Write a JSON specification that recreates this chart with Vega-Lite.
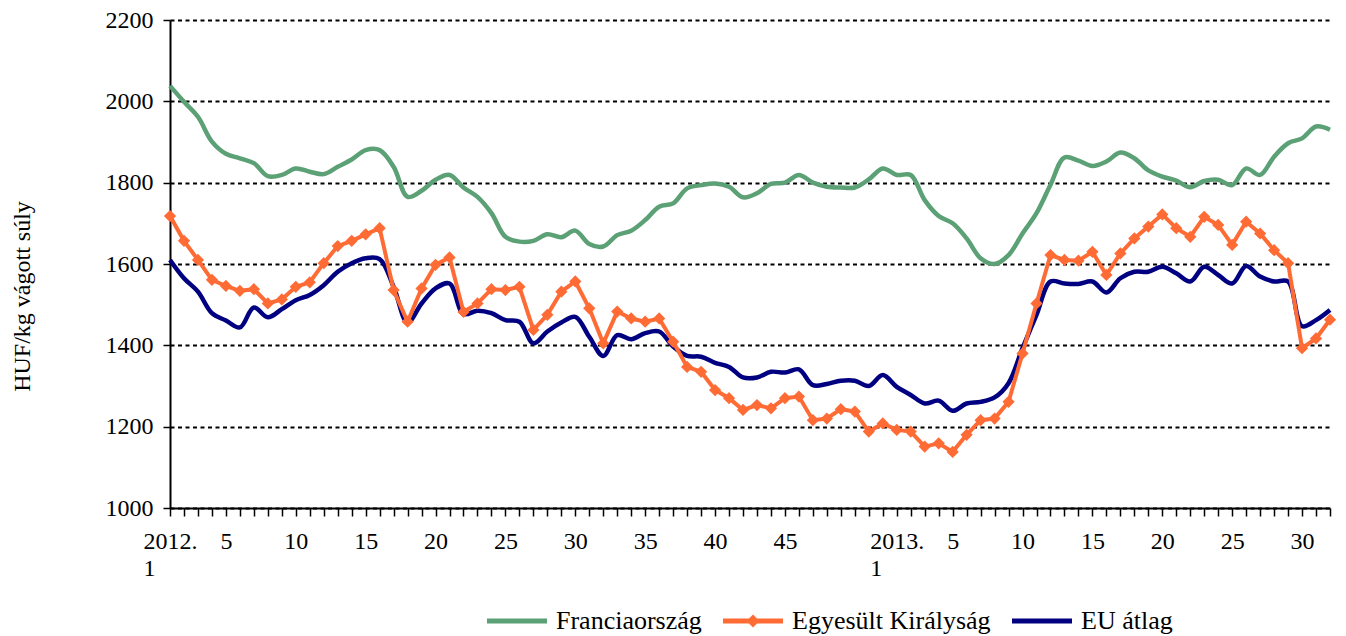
{
  "$schema": "https://vega.github.io/schema/vega-lite/v6.json",
  "autosize": "none",
  "width": 1160,
  "height": 488,
  "padding": {"left": 170, "top": 20, "right": 16, "bottom": 128},
  "background": "white",
  "config": {"view": {"stroke": null}, "font": "Liberation Serif"},
  "datasets": {
    "prices": [
      {"i":0,"series":"Franciaország","value":2038},{"i":1,"series":"Franciaország","value":1999},{"i":2,"series":"Franciaország","value":1962},{"i":3,"series":"Franciaország","value":1901},{"i":4,"series":"Franciaország","value":1871},{"i":5,"series":"Franciaország","value":1860},{"i":6,"series":"Franciaország","value":1848},{"i":7,"series":"Franciaország","value":1816},{"i":8,"series":"Franciaország","value":1819},{"i":9,"series":"Franciaország","value":1835},{"i":10,"series":"Franciaország","value":1827},{"i":11,"series":"Franciaország","value":1821},{"i":12,"series":"Franciaország","value":1839},{"i":13,"series":"Franciaország","value":1857},{"i":14,"series":"Franciaország","value":1880},{"i":15,"series":"Franciaország","value":1880},{"i":16,"series":"Franciaország","value":1839},{"i":17,"series":"Franciaország","value":1765},{"i":18,"series":"Franciaország","value":1780},{"i":19,"series":"Franciaország","value":1807},{"i":20,"series":"Franciaország","value":1819},{"i":21,"series":"Franciaország","value":1788},{"i":22,"series":"Franciaország","value":1765},{"i":23,"series":"Franciaország","value":1725},{"i":24,"series":"Franciaország","value":1667},{"i":25,"series":"Franciaország","value":1655},{"i":26,"series":"Franciaország","value":1657},{"i":27,"series":"Franciaország","value":1673},{"i":28,"series":"Franciaország","value":1666},{"i":29,"series":"Franciaország","value":1682},{"i":30,"series":"Franciaország","value":1649},{"i":31,"series":"Franciaország","value":1643},{"i":32,"series":"Franciaország","value":1671},{"i":33,"series":"Franciaország","value":1682},{"i":34,"series":"Franciaország","value":1708},{"i":35,"series":"Franciaország","value":1741},{"i":36,"series":"Franciaország","value":1749},{"i":37,"series":"Franciaország","value":1786},{"i":38,"series":"Franciaország","value":1794},{"i":39,"series":"Franciaország","value":1798},{"i":40,"series":"Franciaország","value":1790},{"i":41,"series":"Franciaország","value":1764},{"i":42,"series":"Franciaország","value":1774},{"i":43,"series":"Franciaország","value":1797},{"i":44,"series":"Franciaország","value":1800},{"i":45,"series":"Franciaország","value":1819},{"i":46,"series":"Franciaország","value":1800},{"i":47,"series":"Franciaország","value":1790},{"i":48,"series":"Franciaország","value":1788},{"i":49,"series":"Franciaország","value":1788},{"i":50,"series":"Franciaország","value":1808},{"i":51,"series":"Franciaország","value":1835},{"i":52,"series":"Franciaország","value":1819},{"i":53,"series":"Franciaország","value":1819},{"i":54,"series":"Franciaország","value":1757},{"i":55,"series":"Franciaország","value":1718},{"i":56,"series":"Franciaország","value":1700},{"i":57,"series":"Franciaország","value":1663},{"i":58,"series":"Franciaország","value":1614},{"i":59,"series":"Franciaország","value":1600},{"i":60,"series":"Franciaország","value":1622},{"i":61,"series":"Franciaország","value":1675},{"i":62,"series":"Franciaország","value":1725},{"i":63,"series":"Franciaország","value":1795},{"i":64,"series":"Franciaország","value":1862},{"i":65,"series":"Franciaország","value":1854},{"i":66,"series":"Franciaország","value":1841},{"i":67,"series":"Franciaország","value":1852},{"i":68,"series":"Franciaország","value":1874},{"i":69,"series":"Franciaország","value":1860},{"i":70,"series":"Franciaország","value":1830},{"i":71,"series":"Franciaország","value":1815},{"i":72,"series":"Franciaország","value":1805},{"i":73,"series":"Franciaország","value":1789},{"i":74,"series":"Franciaország","value":1804},{"i":75,"series":"Franciaország","value":1807},{"i":76,"series":"Franciaország","value":1794},{"i":77,"series":"Franciaország","value":1835},{"i":78,"series":"Franciaország","value":1819},{"i":79,"series":"Franciaország","value":1864},{"i":80,"series":"Franciaország","value":1897},{"i":81,"series":"Franciaország","value":1909},{"i":82,"series":"Franciaország","value":1938},{"i":83,"series":"Franciaország","value":1930},
      {"i":0,"series":"EU átlag","value":1610},{"i":1,"series":"EU átlag","value":1565},{"i":2,"series":"EU átlag","value":1532},{"i":3,"series":"EU átlag","value":1479},{"i":4,"series":"EU átlag","value":1461},{"i":5,"series":"EU átlag","value":1444},{"i":6,"series":"EU átlag","value":1493},{"i":7,"series":"EU átlag","value":1469},{"i":8,"series":"EU átlag","value":1489},{"i":9,"series":"EU átlag","value":1511},{"i":10,"series":"EU átlag","value":1524},{"i":11,"series":"EU átlag","value":1548},{"i":12,"series":"EU átlag","value":1581},{"i":13,"series":"EU átlag","value":1602},{"i":14,"series":"EU átlag","value":1614},{"i":15,"series":"EU átlag","value":1612},{"i":16,"series":"EU átlag","value":1544},{"i":17,"series":"EU átlag","value":1456},{"i":18,"series":"EU átlag","value":1503},{"i":19,"series":"EU átlag","value":1540},{"i":20,"series":"EU átlag","value":1552},{"i":21,"series":"EU átlag","value":1477},{"i":22,"series":"EU átlag","value":1485},{"i":23,"series":"EU átlag","value":1479},{"i":24,"series":"EU átlag","value":1462},{"i":25,"series":"EU átlag","value":1458},{"i":26,"series":"EU átlag","value":1405},{"i":27,"series":"EU átlag","value":1434},{"i":28,"series":"EU átlag","value":1456},{"i":29,"series":"EU átlag","value":1470},{"i":30,"series":"EU átlag","value":1421},{"i":31,"series":"EU átlag","value":1374},{"i":32,"series":"EU átlag","value":1425},{"i":33,"series":"EU átlag","value":1415},{"i":34,"series":"EU átlag","value":1430},{"i":35,"series":"EU átlag","value":1434},{"i":36,"series":"EU átlag","value":1397},{"i":37,"series":"EU átlag","value":1374},{"i":38,"series":"EU átlag","value":1372},{"i":39,"series":"EU átlag","value":1357},{"i":40,"series":"EU átlag","value":1347},{"i":41,"series":"EU átlag","value":1321},{"i":42,"series":"EU átlag","value":1321},{"i":43,"series":"EU átlag","value":1335},{"i":44,"series":"EU átlag","value":1333},{"i":45,"series":"EU átlag","value":1341},{"i":46,"series":"EU átlag","value":1302},{"i":47,"series":"EU átlag","value":1305},{"i":48,"series":"EU átlag","value":1313},{"i":49,"series":"EU átlag","value":1313},{"i":50,"series":"EU átlag","value":1300},{"i":51,"series":"EU átlag","value":1327},{"i":52,"series":"EU átlag","value":1298},{"i":53,"series":"EU átlag","value":1278},{"i":54,"series":"EU átlag","value":1257},{"i":55,"series":"EU átlag","value":1264},{"i":56,"series":"EU átlag","value":1239},{"i":57,"series":"EU átlag","value":1257},{"i":58,"series":"EU átlag","value":1261},{"i":59,"series":"EU átlag","value":1272},{"i":60,"series":"EU átlag","value":1307},{"i":61,"series":"EU átlag","value":1393},{"i":62,"series":"EU átlag","value":1475},{"i":63,"series":"EU átlag","value":1557},{"i":64,"series":"EU átlag","value":1552},{"i":65,"series":"EU átlag","value":1551},{"i":66,"series":"EU átlag","value":1557},{"i":67,"series":"EU átlag","value":1530},{"i":68,"series":"EU átlag","value":1565},{"i":69,"series":"EU átlag","value":1581},{"i":70,"series":"EU átlag","value":1581},{"i":71,"series":"EU átlag","value":1593},{"i":72,"series":"EU átlag","value":1577},{"i":73,"series":"EU átlag","value":1557},{"i":74,"series":"EU átlag","value":1593},{"i":75,"series":"EU átlag","value":1573},{"i":76,"series":"EU átlag","value":1552},{"i":77,"series":"EU átlag","value":1595},{"i":78,"series":"EU átlag","value":1569},{"i":79,"series":"EU átlag","value":1557},{"i":80,"series":"EU átlag","value":1557},{"i":81,"series":"EU átlag","value":1447},{"i":82,"series":"EU átlag","value":1462},{"i":83,"series":"EU átlag","value":1487},
      {"i":0,"series":"Egyesült Királyság","value":1718},{"i":1,"series":"Egyesült Királyság","value":1657},{"i":2,"series":"Egyesült Királyság","value":1610},{"i":3,"series":"Egyesült Királyság","value":1561},{"i":4,"series":"Egyesült Királyság","value":1546},{"i":5,"series":"Egyesült Királyság","value":1534},{"i":6,"series":"Egyesült Királyság","value":1538},{"i":7,"series":"Egyesült Királyság","value":1503},{"i":8,"series":"Egyesült Királyság","value":1513},{"i":9,"series":"Egyesült Királyság","value":1544},{"i":10,"series":"Egyesült Királyság","value":1555},{"i":11,"series":"Egyesült Királyság","value":1602},{"i":12,"series":"Egyesült Királyság","value":1644},{"i":13,"series":"Egyesült Királyság","value":1657},{"i":14,"series":"Egyesült Királyság","value":1673},{"i":15,"series":"Egyesült Királyság","value":1688},{"i":16,"series":"Egyesült Királyság","value":1536},{"i":17,"series":"Egyesült Királyság","value":1458},{"i":18,"series":"Egyesült Királyság","value":1540},{"i":19,"series":"Egyesült Királyság","value":1598},{"i":20,"series":"Egyesült Királyság","value":1616},{"i":21,"series":"Egyesült Királyság","value":1482},{"i":22,"series":"Egyesült Királyság","value":1503},{"i":23,"series":"Egyesült Királyság","value":1538},{"i":24,"series":"Egyesült Királyság","value":1536},{"i":25,"series":"Egyesült Királyság","value":1544},{"i":26,"series":"Egyesült Királyság","value":1438},{"i":27,"series":"Egyesült Királyság","value":1475},{"i":28,"series":"Egyesült Királyság","value":1532},{"i":29,"series":"Egyesült Királyság","value":1557},{"i":30,"series":"Egyesült Királyság","value":1491},{"i":31,"series":"Egyesült Királyság","value":1405},{"i":32,"series":"Egyesült Királyság","value":1483},{"i":33,"series":"Egyesült Királyság","value":1466},{"i":34,"series":"Egyesült Királyság","value":1458},{"i":35,"series":"Egyesült Királyság","value":1466},{"i":36,"series":"Egyesült Királyság","value":1409},{"i":37,"series":"Egyesült Királyság","value":1347},{"i":38,"series":"Egyesült Királyság","value":1335},{"i":39,"series":"Egyesült Királyság","value":1290},{"i":40,"series":"Egyesült Királyság","value":1270},{"i":41,"series":"Egyesült Királyság","value":1241},{"i":42,"series":"Egyesült Királyság","value":1253},{"i":43,"series":"Egyesült Királyság","value":1245},{"i":44,"series":"Egyesült Királyság","value":1270},{"i":45,"series":"Egyesült Királyság","value":1274},{"i":46,"series":"Egyesült Királyság","value":1216},{"i":47,"series":"Egyesült Királyság","value":1220},{"i":48,"series":"Egyesült Királyság","value":1243},{"i":49,"series":"Egyesült Királyság","value":1237},{"i":50,"series":"Egyesült Királyság","value":1188},{"i":51,"series":"Egyesült Királyság","value":1208},{"i":52,"series":"Egyesült Királyság","value":1192},{"i":53,"series":"Egyesült Királyság","value":1188},{"i":54,"series":"Egyesült Királyság","value":1151},{"i":55,"series":"Egyesült Királyság","value":1159},{"i":56,"series":"Egyesült Királyság","value":1138},{"i":57,"series":"Egyesült Királyság","value":1180},{"i":58,"series":"Egyesült Királyság","value":1216},{"i":59,"series":"Egyesült Királyság","value":1220},{"i":60,"series":"Egyesült Királyság","value":1261},{"i":61,"series":"Egyesült Királyság","value":1380},{"i":62,"series":"Egyesült Királyság","value":1503},{"i":63,"series":"Egyesült Királyság","value":1622},{"i":64,"series":"Egyesült Királyság","value":1610},{"i":65,"series":"Egyesült Királyság","value":1608},{"i":66,"series":"Egyesült Királyság","value":1630},{"i":67,"series":"Egyesült Királyság","value":1573},{"i":68,"series":"Egyesült Királyság","value":1626},{"i":69,"series":"Egyesült Királyság","value":1663},{"i":70,"series":"Egyesült Királyság","value":1692},{"i":71,"series":"Egyesült Királyság","value":1722},{"i":72,"series":"Egyesült Királyság","value":1688},{"i":73,"series":"Egyesült Királyság","value":1667},{"i":74,"series":"Egyesült Királyság","value":1716},{"i":75,"series":"Egyesült Királyság","value":1696},{"i":76,"series":"Egyesült Királyság","value":1647},{"i":77,"series":"Egyesült Királyság","value":1704},{"i":78,"series":"Egyesült Királyság","value":1675},{"i":79,"series":"Egyesült Királyság","value":1634},{"i":80,"series":"Egyesült Királyság","value":1602},{"i":81,"series":"Egyesült Királyság","value":1393},{"i":82,"series":"Egyesült Királyság","value":1417},{"i":83,"series":"Egyesült Királyság","value":1463}
    ]
  },
  "data": {"name": "prices"},
  "encoding": {
    "x": {
      "field": "i", "type": "quantitative",
      "scale": {"domain": [0, 83], "nice": false, "zero": false},
      "axis": {
        "title": null, "grid": false,
        "values": [0,1,2,3,4,5,6,7,8,9,10,11,12,13,14,15,16,17,18,19,20,21,22,23,24,25,26,27,28,29,30,31,32,33,34,35,36,37,38,39,40,41,42,43,44,45,46,47,48,49,50,51,52,53,54,55,56,57,58,59,60,61,62,63,64,65,66,67,68,69,70,71,72,73,74,75,76,77,78,79,80,81,82,83],
        "labelExpr": "datum.value == 0 ? ['2012.', '1'] : datum.value == 52 ? ['2013.', '1'] : (datum.value < 45 && (datum.value + 1) % 5 == 0) ? '' + (datum.value + 1) : (datum.value > 52 && (datum.value - 51) % 5 == 0) ? '' + (datum.value - 51) : ''",
        "labelAlign": {"condition": {"test": "datum.value == 0 || datum.value == 52", "value": "left"}, "value": "center"},
        "labelOffset": {"condition": {"test": "datum.value == 0 || datum.value == 52", "value": -27}, "value": 0},
        "labelOverlap": false, "labelFlush": false, "labelBound": false,
        "labelFont": "Liberation Serif", "labelFontSize": 24, "labelColor": "black",
        "labelPadding": 13, "labelLineHeight": 27,
        "domainColor": "black", "domainWidth": 2,
        "tickColor": "black", "tickWidth": 1.5, "tickSize": 8
      }
    },
    "y": {
      "field": "value", "type": "quantitative",
      "scale": {"domain": [1000, 2200], "nice": false, "zero": false},
      "axis": {
        "title": "HUF/kg vágott súly",
        "values": [1000,1200,1400,1600,1800,2000,2200],
        "format": "d",
        "grid": true, "gridColor": "black", "gridDash": [4, 3.5], "gridWidth": 2,
        "domainColor": "black", "domainWidth": 2,
        "tickColor": "black", "tickWidth": 1.5, "tickSize": 7,
        "labelFont": "Liberation Serif", "labelFontSize": 24, "labelColor": "black", "labelPadding": 10,
        "titleFont": "Liberation Serif", "titleFontSize": 24, "titleFontWeight": "normal", "titleColor": "black",
        "titleAngle": -90, "titleX": -148, "titleY": 276, "titleAlign": "center", "titleBaseline": "middle"
      }
    },
    "color": {
      "field": "series", "type": "nominal",
      "scale": {"domain": ["Franciaország", "Egyesült Királyság", "EU átlag"], "range": ["#5CA076", "#FF6B35", "#000080"]},
      "legend": {
        "title": null, "orient": "none", "direction": "horizontal",
        "legendX": 314, "legendY": 588,
        "labelFont": "Liberation Serif", "labelFontSize": 26, "labelColor": "black", "labelLimit": 500,
        "symbolSize": 400, "labelOffset": 46, "columnPadding": 18,
        "encode": {
          "symbols": {
            "update": {
              "shape": {"signal": "datum.value == 'Egyesült Királyság' ? 'M-1,-0.25L1.6,-0.25L2,-0.65L2.4,-0.25L5,-0.25L5,0.25L2.4,0.25L2,0.65L1.6,0.25L-1,0.25Z' : 'M-1,-0.25L5,-0.25L5,0.25L-1,0.25Z'"},
              "fill": {"signal": "scale('color', datum.value)"},
              "fillOpacity": {"value": 1},
              "strokeWidth": {"value": 0}
            }
          }
        }
      }
    }
  },
  "layer": [
    {
      "transform": [{"filter": "datum.series != 'Egyesült Királyság'"}],
      "mark": {"type": "line", "interpolate": "catmull-rom", "strokeWidth": 4.5}
    },
    {
      "transform": [{"filter": "datum.series == 'Egyesült Királyság'"}],
      "mark": {"type": "line", "interpolate": "linear", "strokeWidth": 4}
    },
    {
      "transform": [{"filter": "datum.series == 'Egyesült Királyság'"}],
      "mark": {"type": "point", "shape": "diamond", "filled": true, "size": 150, "opacity": 1}
    }
  ]
}
